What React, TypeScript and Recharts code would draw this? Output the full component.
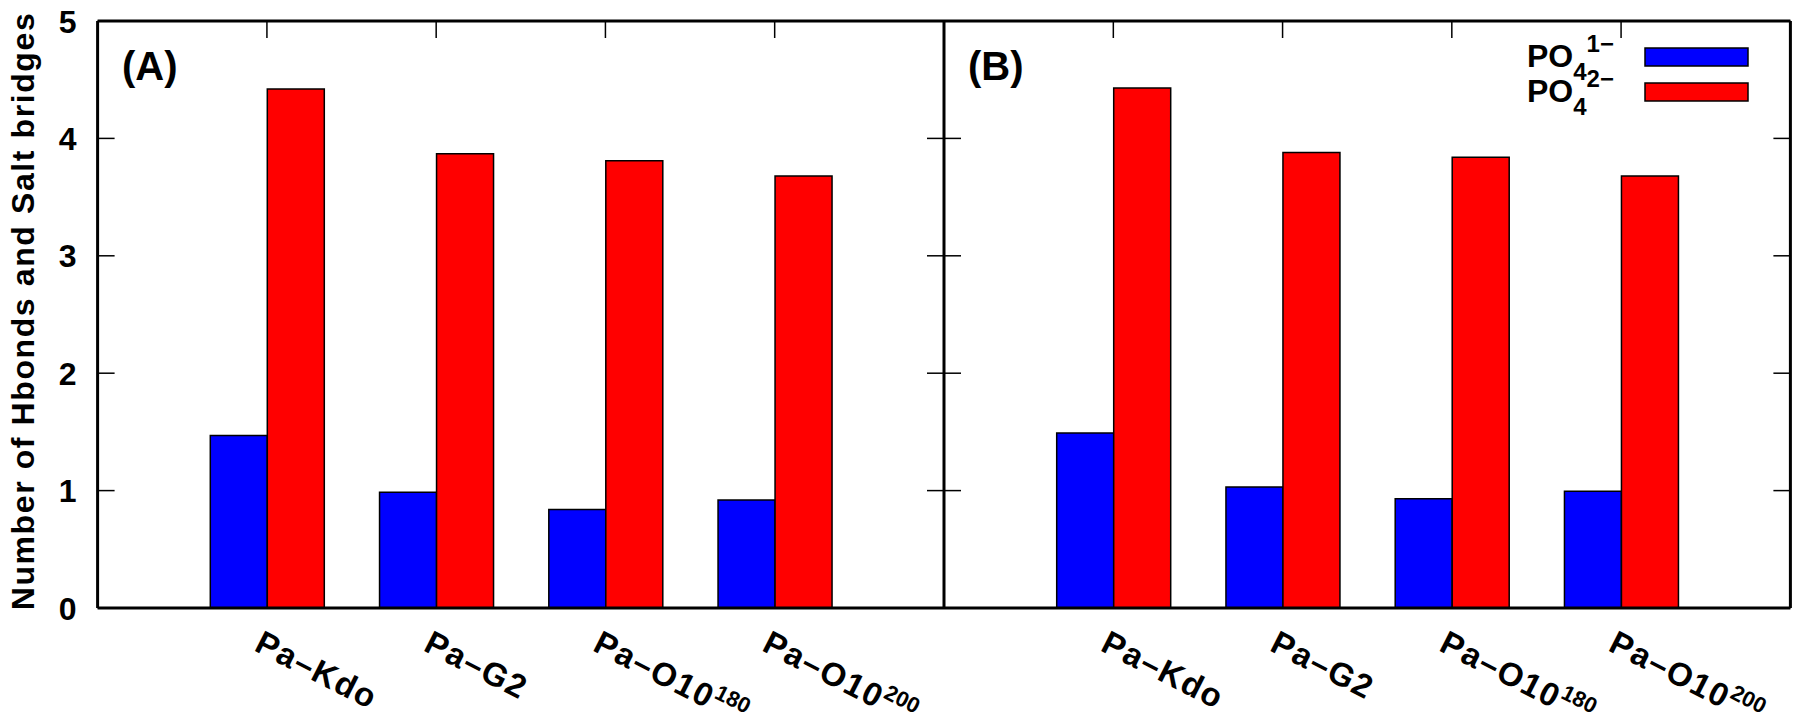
import React from "react";
import { BarChart, Bar, XAxis, YAxis } from "recharts";

const categories = ["Pa–Kdo", "Pa–G2", "Pa–O10^180", "Pa–O10^200"];
const seriesNames = ["PO4 1-", "PO4 2-"];
const seriesSups = ["1−", "2−"];
const seriesColors = ["#0000ff", "#ff0000"];
const yTicks = [0, 1, 2, 3, 4, 5];

// panel (A)
const panelA_mono = [1.47, 0.985, 0.84, 0.92];
const panelA_di = [4.42, 3.87, 3.81, 3.68];
// panel (B)
const panelB_mono = [1.49, 1.03, 0.93, 0.995];
const panelB_di = [4.43, 3.88, 3.84, 3.68];

const FONT = "'Liberation Sans', Arial, Helvetica, sans-serif";
const H = 715;
const PLOT_TOP = 21;
const PLOT_BOTTOM = 608;
const PLOT_W = 846.4;
const PAD = 84.7;
const TICK_LEN = 17;

const toRows = (mono: number[], di: number[]) =>
  categories.map((name, i) => ({ name, mono: mono[i], di: di[i] }));

const frame = { stroke: "#000", strokeWidth: 3 };

// bottom labels + the inward tick on the top border
const XTick = ({ x, y, payload }: any) => {
  const [base, sup] = String(payload.value).split("^");
  return (
    <g>
      <line x1={x} x2={x} y1={PLOT_TOP} y2={PLOT_TOP + TICK_LEN} stroke="#000" strokeWidth={1.5} />
      <g transform={`translate(${x - 14},${y + 42}) rotate(27)`}>
        <text x={0} y={0} fontFamily={FONT} fontWeight="bold" fontSize={33} letterSpacing={1.5} fill="#000">
          {base}
          {sup && (
            <tspan fontSize={22} dy={-13} letterSpacing={0}>
              {sup}
            </tspan>
          )}
        </text>
      </g>
    </g>
  );
};

// y labels + inward ticks on both left and right borders
const YTick = ({ x, y, payload, showLabel }: any) => (
  <g>
    <line x1={x} x2={x + TICK_LEN} y1={y} y2={y} stroke="#000" strokeWidth={1.5} />
    <line x1={x + PLOT_W - TICK_LEN} x2={x + PLOT_W} y1={y} y2={y} stroke="#000" strokeWidth={1.5} />
    {showLabel && (
      <text
        x={x - 21}
        y={y}
        dy="0.36em"
        textAnchor="end"
        fontFamily={FONT}
        fontWeight="bold"
        fontSize={32}
        fill="#000"
      >
        {payload.value}
      </text>
    )}
  </g>
);

const PanelTag = ({ text, left }: { text: string; left: number }) => (
  <div
    style={{
      position: "absolute",
      top: 44,
      left,
      fontFamily: FONT,
      fontWeight: "bold",
      fontSize: 40,
      lineHeight: "44px",
    }}
  >
    {text}
  </div>
);

// key drawn over panel (B), top right
const LegendBox = () => (
  <svg width={290} height={110} style={{ position: "absolute", left: 1500, top: 20, display: "block" }}>
    {seriesNames.map((name, i) => {
      const base = 47 + i * 35;
      return (
        <g key={name}>
          <text x={27} y={base} fontFamily={FONT} fontWeight="bold" fontSize={32} fill="#000">
            PO
            <tspan fontSize={24} dy={13}>4</tspan>
            <tspan fontSize={24} dy={-28}>{seriesSups[i]}</tspan>
          </text>
          <rect
            x={145}
            y={28 + i * 35}
            width={103}
            height={18}
            fill={seriesColors[i]}
            stroke="#000"
            strokeWidth={1.5}
          />
        </g>
      );
    })}
  </svg>
);

function Panel({
  mono,
  di,
  width,
  axisWidth,
  rightMargin,
  showYLabels,
}: {
  mono: number[];
  di: number[];
  width: number;
  axisWidth: number;
  rightMargin: number;
  showYLabels: boolean;
}) {
  const data = toRows(mono, di);
  return (
    <BarChart
      width={width}
      height={H}
      data={data}
      barGap={0}
      margin={{ top: PLOT_TOP, right: rightMargin, bottom: 0, left: 0 }}
    >
      <XAxis
        dataKey="name"
        padding={{ left: PAD, right: PAD }}
        height={H - PLOT_BOTTOM}
        axisLine={frame}
        tickLine={false}
        tickSize={0}
        tickMargin={0}
        tick={<XTick />}
        interval={0}
      />
      <XAxis
        xAxisId="top"
        orientation="top"
        mirror
        dataKey="name"
        padding={{ left: PAD, right: PAD }}
        axisLine={frame}
        tickLine={false}
        tick={false}
      />
      <YAxis
        domain={[0, 5]}
        ticks={yTicks}
        width={axisWidth}
        axisLine={frame}
        tickLine={false}
        tickSize={0}
        tickMargin={0}
        interval={0}
        tick={<YTick showLabel={showYLabels} />}
        label={
          showYLabels
            ? {
                content: () => (
                  <text
                    x={34}
                    y={311}
                    transform="rotate(-90 34 311)"
                    textAnchor="middle"
                    fontFamily={FONT}
                    fontWeight="bold"
                    fontSize={32}
                    letterSpacing={1.6}
                    fill="#000"
                  >
                    Number of Hbonds and Salt bridges
                  </text>
                ),
              }
            : undefined
        }
      />
      <YAxis
        yAxisId="right"
        orientation="right"
        mirror
        domain={[0, 5]}
        axisLine={frame}
        tickLine={false}
        tick={false}
      />
      <Bar
        dataKey="mono"
        name={seriesNames[0]}
        fill={seriesColors[0]}
        stroke="#000"
        strokeWidth={1.5}
        barSize={57}
        isAnimationActive={false}
      />
      <Bar
        dataKey="di"
        name={seriesNames[1]}
        fill={seriesColors[1]}
        stroke="#000"
        strokeWidth={1.5}
        barSize={57}
        isAnimationActive={false}
      />
    </BarChart>
  );
}

export default function App() {
  return (
    <div
      style={{
        position: "absolute",
        left: 0,
        top: 0,
        width: 1800,
        height: H,
        background: "#fff",
        overflow: "hidden",
      }}
    >
      <div style={{ position: "absolute", left: 0, top: 0 }}>
        <Panel mono={panelA_mono} di={panelA_di} width={944} axisWidth={97.6} rightMargin={0} showYLabels />
      </div>
      <div style={{ position: "absolute", left: 943, top: 0 }}>
        <Panel mono={panelB_mono} di={panelB_di} width={857} axisWidth={1} rightMargin={9.6} showYLabels={false} />
      </div>
      <PanelTag text="(A)" left={122} />
      <PanelTag text="(B)" left={968} />
      <LegendBox />
    </div>
  );
}
